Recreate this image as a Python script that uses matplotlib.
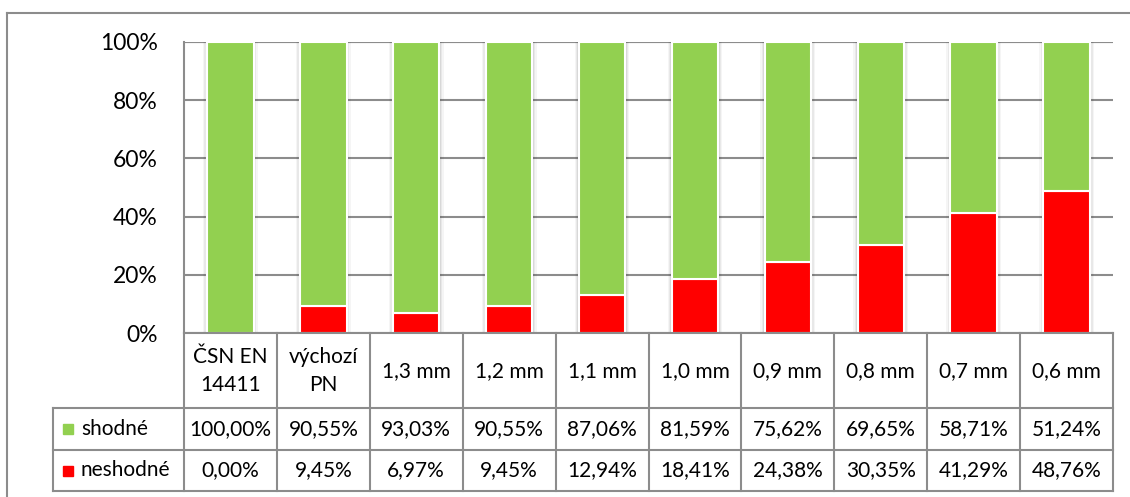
import matplotlib.pyplot as plt
from matplotlib.patches import Rectangle
from matplotlib.lines import Line2D

plt.rcParams['font.family'] = ['Lato', 'DejaVu Sans']

# Data
categories = ["ČSN EN\n14411", "výchozí\nPN", "1,3 mm", "1,2 mm", "1,1 mm",
              "1,0 mm", "0,9 mm", "0,8 mm", "0,7 mm", "0,6 mm"]
shodne = [100.00, 90.55, 93.03, 90.55, 87.06, 81.59, 75.62, 69.65, 58.71, 51.24]
neshodne = [0.00, 9.45, 6.97, 9.45, 12.94, 18.41, 24.38, 30.35, 41.29, 48.76]
series_names = ["shodné", "neshodné"]

green = "#92D050"
red = "#FF0000"
grid_col = "#8C8C8C"

W, H = 1130, 497
fig = plt.figure(figsize=(W / 100, H / 100), dpi=100)

def px_axes(x0, y0, x1, y1):
    # pixel box (top-left origin) -> figure axes
    return fig.add_axes([x0 / W, 1 - y1 / H, (x1 - x0) / W, (y1 - y0) / H])

# outer frame
fig.add_artist(Line2D([7 / W, 7 / W], [0, 1 - 13 / H], color=grid_col, lw=1.5))
fig.add_artist(Line2D([7 / W, 1], [1 - 13 / H, 1 - 13 / H], color=grid_col, lw=1.5))

# bar chart
ax = px_axes(184, 42, 1113, 333)
x = range(len(categories))
bw = 0.5
pct_s = [v / 100 for v in shodne]
pct_n = [v / 100 for v in neshodne]

# soft shadow around the bars
for k, a in [(0.09, 0.04), (0.06, 0.05), (0.03, 0.07)]:
    ax.bar(x, 1.0, width=bw + k, color="#000000", alpha=a, lw=0, zorder=1)
ax.bar(x, 1.0, width=bw, color="white", lw=0, zorder=1.5)

ax.bar(x, pct_n, width=bw, color=red, edgecolor="white", lw=1.5, zorder=2)
ax.bar(x, pct_s, width=bw, bottom=pct_n, color=green, edgecolor="white", lw=1.5, zorder=2)

ax.set_xlim(-0.5, len(categories) - 0.5)
ax.set_ylim(0, 1)
ax.set_yticks([0, 0.2, 0.4, 0.6, 0.8, 1.0])
ax.set_yticklabels(["0%", "20%", "40%", "60%", "80%", "100%"], fontsize=16.5)
ax.tick_params(axis="y", length=0, pad=19)
ax.set_xticks([])
ax.grid(axis="y", color=grid_col, lw=1.5, zorder=0)
ax.set_axisbelow(True)
for s in ["top", "right", "bottom"]:
    ax.spines[s].set_visible(False)
ax.spines["left"].set_color(grid_col)
ax.spines["left"].set_linewidth(1.5)
ax.axhline(1.0, color=grid_col, lw=1.5, zorder=0)

# data table below the chart
tab = px_axes(53, 333, 1113, 491)
leg_w = (184 - 53) / ((1113 - 184) / len(categories))
x_left = -0.5 - leg_w
x_right = len(categories) - 0.5
tab.set_xlim(x_left, x_right)
tab.set_ylim(158, 0)
tab.axis("off")

rows_y = [0, 75, 117, 158]
lk = dict(color=grid_col, lw=1.5, clip_on=False)
# horizontal lines
tab.plot([-0.5, x_right], [0, 0], **lk)
for yy in rows_y[1:]:
    tab.plot([x_left, x_right], [yy, yy], **lk)
# vertical lines
tab.plot([x_left, x_left], [rows_y[1], rows_y[3]], **lk)
for i in range(len(categories) + 1):
    xx = i - 0.5
    tab.plot([xx, xx], [0, 158], **lk)

fs = 15
for i, c in enumerate(categories):
    tab.text(i, 38, c, ha="center", va="center", fontsize=fs, linespacing=1.45)
    tab.text(i, 96, f"{shodne[i]:.2f}%".replace(".", ","), ha="center", va="center", fontsize=fs)
    tab.text(i, 137.5, f"{neshodne[i]:.2f}%".replace(".", ","), ha="center", va="center", fontsize=fs)

# legend keys inside the table
unit = (1113 - 184) / len(categories)
sq = 10 / unit
for yy, name, col in [(96, series_names[0], green), (137.5, series_names[1], red)]:
    tab.add_patch(Rectangle((x_left + 10 / unit, yy - 5), sq, 10, color=col, clip_on=False))
    tab.text(x_left + 28 / unit, yy, name, ha="left", va="center", fontsize=fs)

fig.savefig("out.png", dpi=100)
